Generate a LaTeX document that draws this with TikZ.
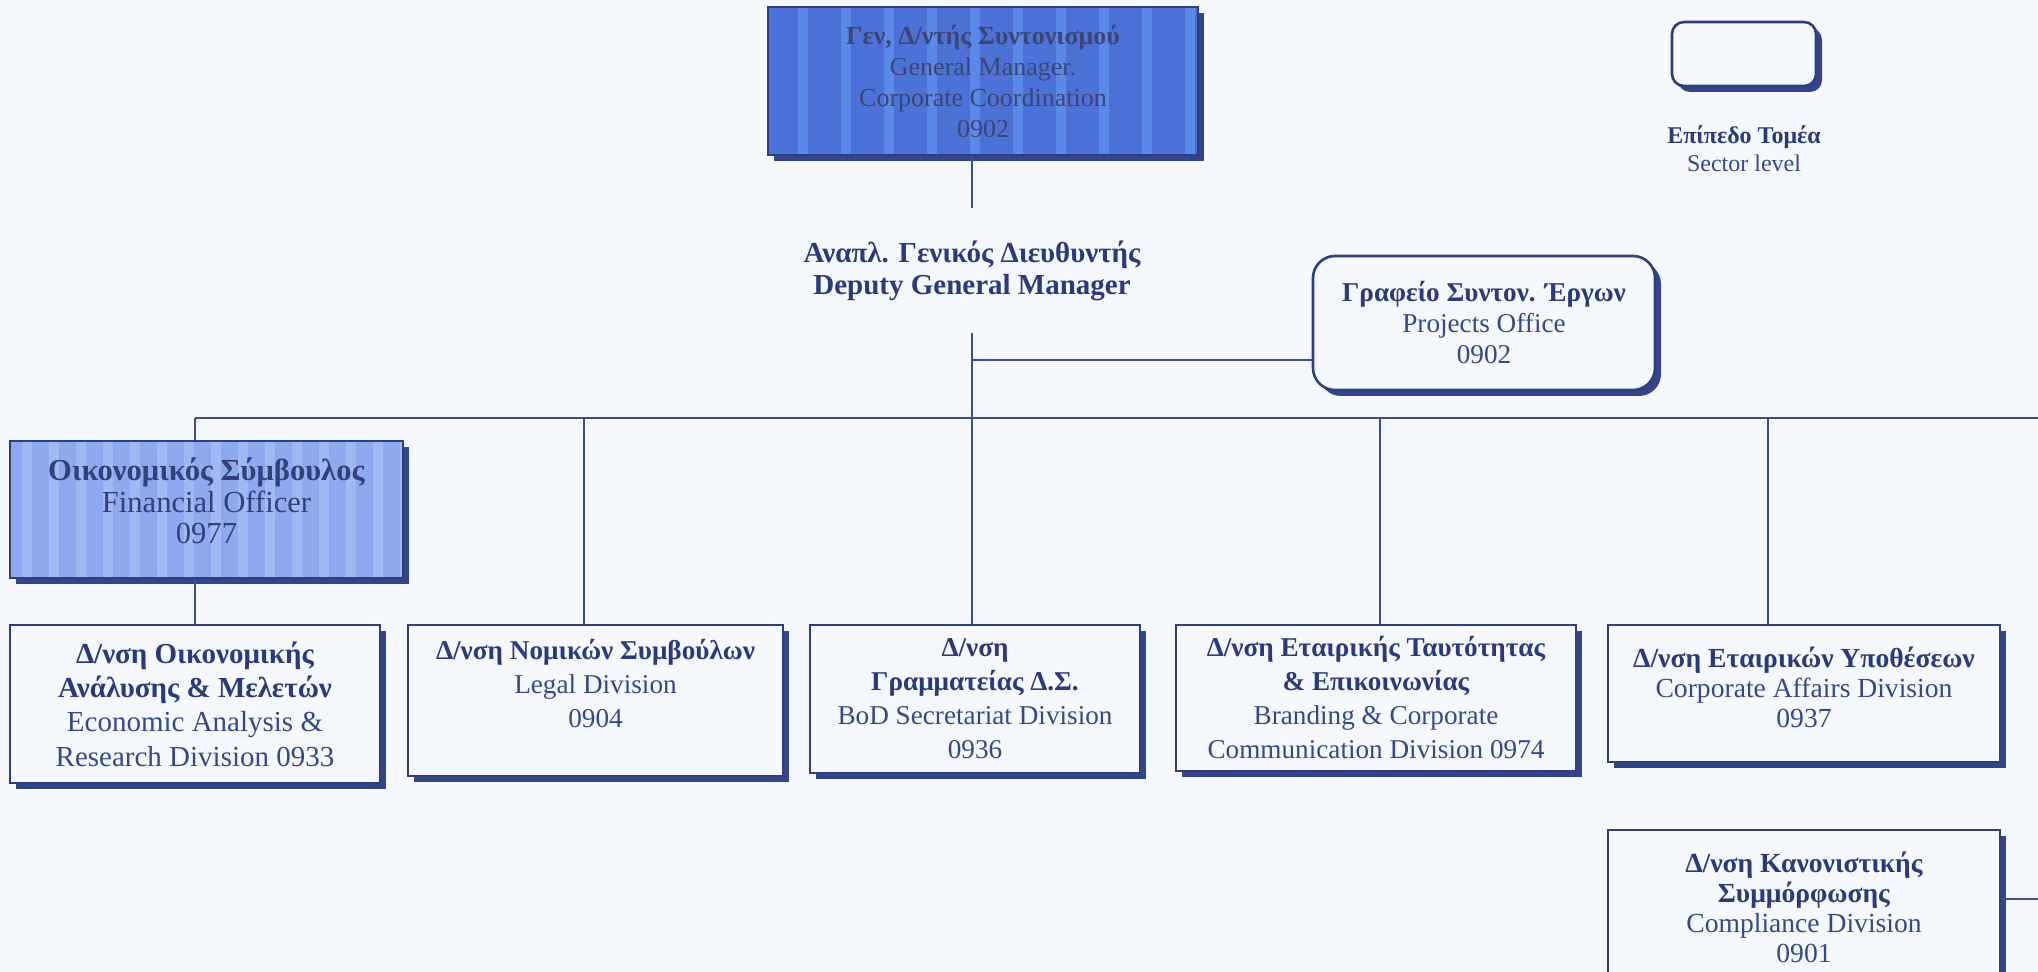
\documentclass[tikz,border=0pt]{standalone}
\usepackage{fontspec}
\setmainfont{Liberation Serif}
\usetikzlibrary{shadows}

\definecolor{bgc}{HTML}{F5F8FC}
\definecolor{ink}{HTML}{2B3A7E}
\definecolor{inkl}{HTML}{34488F}
\definecolor{edge}{HTML}{2E3E80}
\definecolor{shade}{HTML}{33458A}
\definecolor{wirec}{HTML}{3A4D96}
\definecolor{topfill}{HTML}{4C72D7}
\definecolor{topstripe}{HTML}{5A89E8}
\definecolor{toptext}{HTML}{3C4674}
\definecolor{fofill}{HTML}{8EA9EE}
\definecolor{fostripe}{HTML}{A0B9F4}
\definecolor{fotext}{HTML}{34407A}

% bold Greek heading line
\newcommand{\grk}[1]{\textcolor{ink}{\textbf{#1}}}

\tikzset{
  orgbox/.style={draw=edge, line width=1.3pt, fill=bgc, align=center,
    inner sep=0pt, text=inkl,
    drop shadow={shadow xshift=3pt, shadow yshift=-3pt, fill=shade, opacity=1}},
  wire/.style={draw=wirec, line width=1pt},
  divfont/.style={font=\fontsize{13.6}{17}\selectfont},
  tightfont/.style={font=\fontsize{13.8}{15}\selectfont},
  topstripes/.style={path picture={
    \foreach \k in {0,...,9}{
      \fill[topstripe] ([xshift=15pt+\k*21.5pt]path picture bounding box.south west)
        rectangle ++(5pt,80pt);}}},
  fostripes/.style={path picture={
    \foreach \k in {0,...,14}{
      \fill[fostripe] ([xshift=6pt+\k*13.5pt]path picture bounding box.south west)
        rectangle ++(5pt,75pt);}}},
}

\begin{document}
\begin{tikzpicture}[x=0.5pt,y=-0.5pt]
  \useasboundingbox (0,0) rectangle (2038,972);
  \clip (0,0) rectangle (2038,972);
  \fill[bgc] (0,0) rectangle (2038,972);

  % general manager
  \node[orgbox, fill=topfill, text=toptext, topstripes,
        minimum width=215pt, minimum height=74pt,
        font=\fontsize{13}{15.5}\selectfont] (gm) at (983,81)
    {\textbf{Γεν, Δ/ντής Συντονισμού}\\General Manager.\\Corporate Coordination\\0902};

  % deputy general manager (label only)
  \node[font=\bfseries\fontsize{14.5}{16}\selectfont, text=ink, align=center,
        minimum height=62.5pt, inner sep=0pt] (dgm) at (972,270.5)
    {Αναπλ. Γενικός Διευθυντής\\Deputy General Manager};

  % projects office
  \node[orgbox, rounded corners=11pt, minimum width=171pt, minimum height=67pt,
        font=\fontsize{13.6}{15.5}\selectfont] (proj) at (1484,323)
    {\grk{Γραφείο Συντον. Έργων}\\Projects Office\\0902};

  % legend
  \node[orgbox, rounded corners=6pt, minimum width=72pt, minimum height=32pt,
        drop shadow={shadow xshift=2pt, shadow yshift=-2pt, fill=shade, opacity=1}] (lg) at (1744,54) {};
  \node[font=\fontsize{12}{14}\selectfont, text=inkl, align=center] (lgt) at (1744,149)
    {\grk{Επίπεδο Τομέα}\\Sector level};

  % financial officer
  \node[orgbox, fill=fofill, text=fotext, fostripes,
        minimum width=196.5pt, minimum height=68.5pt,
        font=\fontsize{15.3}{15.75}\selectfont] (fo) at (206.5,509.5)
    {\textbf{Οικονομικός Σύμβουλος}\\Financial Officer\\0977\\[-7pt]\mbox{}};

  % divisions
  \node[orgbox, font=\fontsize{14.5}{17.2}\selectfont, minimum width=185pt, minimum height=79pt] (ea) at (195,704)
    {\grk{Δ/νση Οικονομικής}\\\grk{Ανάλυσης \& Μελετών}\\Economic Analysis \&\\Research Division 0933};
  \node[orgbox, divfont, minimum width=187.5pt, minimum height=75.5pt] (legal) at (595.5,700.5)
    {\grk{Δ/νση Νομικών Συμβούλων}\\Legal Division\\0904\\\mbox{}};
  \node[orgbox, divfont, minimum width=165pt, minimum height=74pt] (bod) at (975,699)
    {\grk{Δ/νση}\\\grk{Γραμματείας Δ.Σ.}\\BoD Secretariat Division\\0936};
  \node[orgbox, divfont, minimum width=200pt, minimum height=73pt] (brand) at (1376,698)
    {\grk{Δ/νση Εταιρικής Ταυτότητας}\\\grk{\& Επικοινωνίας}\\Branding \& Corporate\\Communication Division 0974};
  \node[orgbox, tightfont, minimum width=196pt, minimum height=68.5pt] (ca) at (1804,693.5)
    {\grk{Δ/νση Εταιρικών Υποθέσεων}\\Corporate Affairs Division\\0937\\[-9pt]\mbox{}};
  \node[orgbox, tightfont, minimum width=196pt, minimum height=77pt] (comp) at (1804,907)
    {\grk{Δ/νση Κανονιστικής}\\\grk{Συμμόρφωσης}\\Compliance Division\\0901};

  % connectors
  \coordinate (busL) at (195,418);
  \coordinate (busR) at (2038,418);
  \coordinate (pj) at (972,360);
  \coordinate (d2) at (584,418);
  \coordinate (d4) at (1380,418);
  \coordinate (d5) at (1768,418);
  \coordinate (rc) at (2038,899);

  \draw[wire] (gm.south -| dgm.north) -- (dgm.north);
  \draw[wire] (dgm.south) -- (dgm.south |- bod.north);
  \draw[wire] (pj) -- (pj -| proj.west);
  \draw[wire] (busL) -- (busR);
  \draw[wire] (busL) -- (busL |- fo.north);
  \draw[wire] (fo.south -| busL) -- (ea.north -| busL);
  \draw[wire] (d2) -- (d2 |- legal.north);
  \draw[wire] (d4) -- (d4 |- brand.north);
  \draw[wire] (d5) -- (d5 |- ca.north);
  \draw[wire] (rc -| comp.east) -- (rc);
\end{tikzpicture}
\end{document}
